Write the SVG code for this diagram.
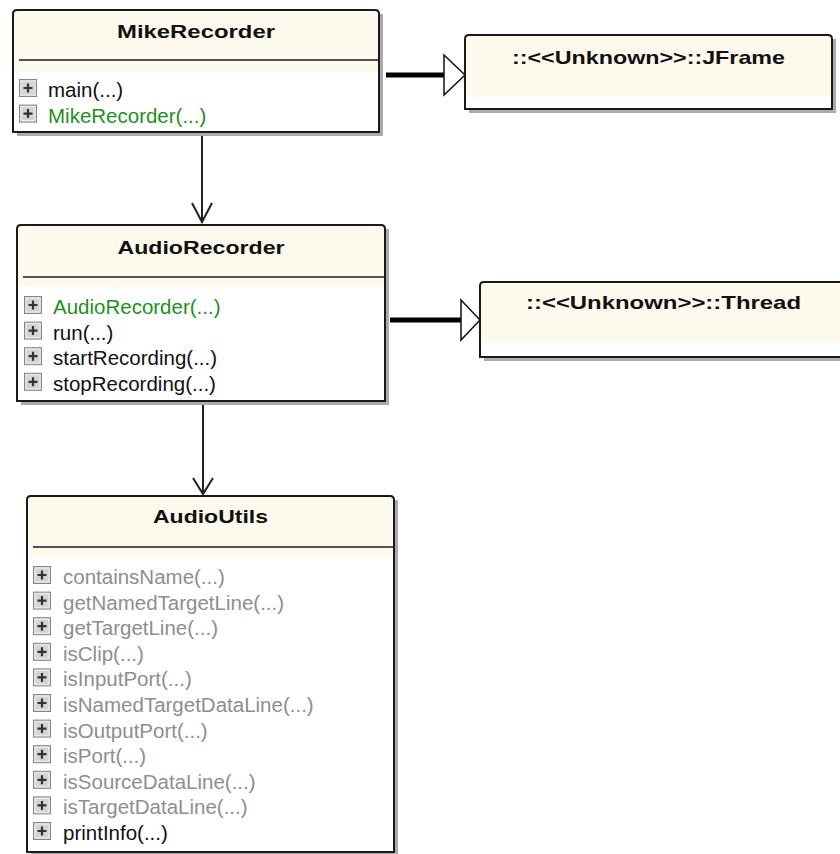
<svg xmlns="http://www.w3.org/2000/svg" xmlns:xlink="http://www.w3.org/1999/xlink" width="840" height="854" viewBox="0 0 840 854">
<style>
.sh{fill:#ababab}
.body{fill:#ffffff}
.hdr{fill:#fdf9ec}
.bd{fill:none;stroke:#1a1a1a;stroke-width:2}
.sep{stroke:#1a1a1a;stroke-width:1.6}
.t{font-family:"Liberation Sans",Arial,sans-serif;font-weight:bold;font-size:19px;fill:#111;text-anchor:middle}
.m{font-family:"Liberation Sans",Arial,sans-serif;font-size:20.5px;fill:#111}
.g{fill:#1f8f1f}
.gr{fill:#8e8e8e}
.thick{stroke:#000;stroke-width:5;fill:none}
.tri{fill:#fff;stroke:#111;stroke-width:1.5}
.dep{stroke:#222;stroke-width:2;fill:none}
</style>
<defs>
<g id="ic"><rect x="0.5" y="0.5" width="17" height="17" fill="#d4d4d4" stroke="#858585"/><rect x="2" y="2" width="14" height="14" fill="none" stroke="#eeeeee" stroke-width="1"/><path d="M4.5 9H13.5M9 4.5V13.5" stroke="#333" stroke-width="2.2"/></g>
</defs>

<g id="connectors">
<line class="thick" x1="386" y1="75" x2="445" y2="75"/>
<polygon class="tri" points="444,55 465,75 444,95"/>
<line class="thick" x1="390" y1="320" x2="462" y2="320"/>
<polygon class="tri" points="461,300 480,320 461,340"/>
<line class="dep" x1="202" y1="133" x2="202" y2="222"/>
<polyline class="dep" points="192,203 202,222 212,203"/>
<line class="dep" x1="203" y1="402" x2="203" y2="494"/>
<polyline class="dep" points="193,478 203,494 213,478"/>
</g>

<g id="MikeRecorder">
<rect class="sh" x="17" y="14" width="366" height="122"/>
<rect class="body" x="13" y="10" width="366" height="122"/>
<path class="hdr" d="M13 72V14Q13 10 17 10H375Q379 10 379 14V72Z"/>
<line class="sep" x1="19" y1="60" x2="379" y2="60"/>
<path class="bd" d="M13 132V14Q13 10 17 10H375Q379 10 379 14V132Z"/>
<text class="t" x="196" y="38" textLength="158" lengthAdjust="spacingAndGlyphs">MikeRecorder</text>
<use xlink:href="#ic" x="19" y="79"/>
<text class="m" x="48" y="97">main(...)</text>
<use xlink:href="#ic" x="19" y="104.6"/>
<text class="m g" x="48" y="122.6">MikeRecorder(...)</text>
</g>

<g id="JFrame">
<rect class="sh" x="469" y="39" width="367" height="74"/>
<rect class="body" x="465" y="35" width="367" height="74"/>
<path class="hdr" d="M465 97V39Q465 35 469 35H828Q832 35 832 39V97Z"/>
<path class="bd" d="M465 109V39Q465 35 469 35H828Q832 35 832 39V109Z"/>
<text class="t" x="648.5" y="64" textLength="273" lengthAdjust="spacingAndGlyphs">::&lt;&lt;Unknown&gt;&gt;::JFrame</text>
</g>

<g id="AudioRecorder">
<rect class="sh" x="21" y="229" width="368" height="176"/>
<rect class="body" x="17" y="225" width="368" height="176"/>
<path class="hdr" d="M17 287V229Q17 225 21 225H381Q385 225 385 229V287Z"/>
<line class="sep" x1="23" y1="277" x2="385" y2="277"/>
<path class="bd" d="M17 401V229Q17 225 21 225H381Q385 225 385 229V401Z"/>
<text class="t" x="201" y="254" textLength="167" lengthAdjust="spacingAndGlyphs">AudioRecorder</text>
<use xlink:href="#ic" x="24" y="296"/>
<text class="m g" x="53" y="314">AudioRecorder(...)</text>
<use xlink:href="#ic" x="24" y="321.6"/>
<text class="m" x="53" y="339.6">run(...)</text>
<use xlink:href="#ic" x="24" y="347.2"/>
<text class="m" x="53" y="365.2">startRecording(...)</text>
<use xlink:href="#ic" x="24" y="372.8"/>
<text class="m" x="53" y="390.8">stopRecording(...)</text>
</g>

<g id="Thread">
<rect class="sh" x="484" y="286" width="367" height="75"/>
<rect class="body" x="480" y="282" width="367" height="75"/>
<path class="hdr" d="M480 343V286Q480 282 484 282H843Q847 282 847 286V343Z"/>
<path class="bd" d="M480 357V286Q480 282 484 282H843Q847 282 847 286V357Z"/>
<text class="t" x="663.5" y="309" textLength="275" lengthAdjust="spacingAndGlyphs">::&lt;&lt;Unknown&gt;&gt;::Thread</text>
</g>

<g id="AudioUtils">
<rect class="sh" x="31" y="500" width="367" height="356"/>
<rect class="body" x="27" y="496" width="367" height="356"/>
<path class="hdr" d="M27 557V500Q27 496 31 496H390Q394 496 394 500V557Z"/>
<line class="sep" x1="33" y1="547" x2="394" y2="547"/>
<path class="bd" d="M27 852V500Q27 496 31 496H390Q394 496 394 500V852Z"/>
<text class="t" x="210.5" y="523" textLength="115" lengthAdjust="spacingAndGlyphs">AudioUtils</text>
<use xlink:href="#ic" x="33" y="566"/>
<text class="m gr" x="63" y="584">containsName(...)</text>
<use xlink:href="#ic" x="33" y="591.6"/>
<text class="m gr" x="63" y="609.6">getNamedTargetLine(...)</text>
<use xlink:href="#ic" x="33" y="617.2"/>
<text class="m gr" x="63" y="635.2">getTargetLine(...)</text>
<use xlink:href="#ic" x="33" y="642.8"/>
<text class="m gr" x="63" y="660.8">isClip(...)</text>
<use xlink:href="#ic" x="33" y="668.4"/>
<text class="m gr" x="63" y="686.4">isInputPort(...)</text>
<use xlink:href="#ic" x="33" y="694"/>
<text class="m gr" x="63" y="712">isNamedTargetDataLine(...)</text>
<use xlink:href="#ic" x="33" y="719.6"/>
<text class="m gr" x="63" y="737.6">isOutputPort(...)</text>
<use xlink:href="#ic" x="33" y="745.2"/>
<text class="m gr" x="63" y="763.2">isPort(...)</text>
<use xlink:href="#ic" x="33" y="770.8"/>
<text class="m gr" x="63" y="788.8">isSourceDataLine(...)</text>
<use xlink:href="#ic" x="33" y="796.4"/>
<text class="m gr" x="63" y="814.4">isTargetDataLine(...)</text>
<use xlink:href="#ic" x="33" y="822"/>
<text class="m" x="63" y="840">printInfo(...)</text>
</g>
</svg>
